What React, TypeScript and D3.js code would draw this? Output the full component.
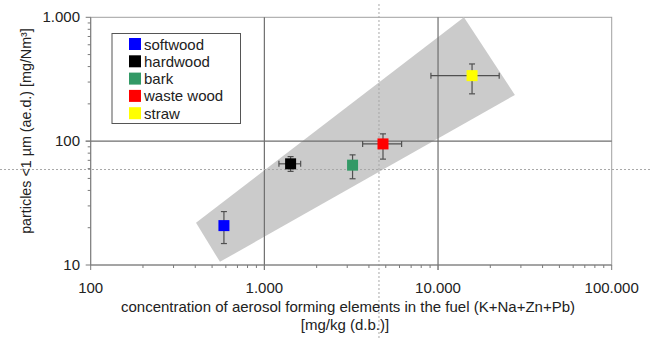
import React, { useRef, useEffect } from "react";
import * as d3 from "d3";

// fuels
const categories = ["softwood", "hardwood", "bark", "waste wood", "straw"];
const colors = ["#0000ff", "#000000", "#339966", "#ff0000", "#ffff00"];
// concentration of aerosol forming elements [mg/kg]
const xValues = [585, 1416, 3220, 4820, 15700];
const xLow = [585, 1213, 3080, 3680, 9100];
const xHigh = [585, 1618, 3380, 6170, 22500];
// particles < 1 µm [mg/Nm³]
const yValues = [20.8, 65.6, 64, 95, 338];
const yLow = [14.9, 57, 49.7, 71.6, 241];
const yHigh = [27, 75, 77.5, 114.5, 420];

// shaded band corners
const bandX = [404, 14100, 27700, 555];
const bandY = [21.9, 1000, 236, 10.6];

// dotted reference lines
const refX = 4570;
const refY = 59;

const xTicks = [100, 1000, 10000, 100000];
const xTickLabels = ["100", "1.000", "10.000", "100.000"];
const yTicks = [10, 100, 1000];
const yTickLabels = ["10", "100", "1.000"];

const FONT = '"Liberation Sans", Arial, sans-serif';

const App = () => {
    const chartRef = useRef<SVGSVGElement>(null);

    useEffect(() => {
        if (!chartRef.current) return;
        const svg = d3.select(chartRef.current);
        svg.selectAll("*").remove();

        const left = 90.7, right = 611.7, top = 17.3, bottom = 265;

        const x = d3.scaleLog().domain([100, 100000]).range([left, right]);
        const y = d3.scaleLog().domain([10, 1000]).range([bottom, top]);

        // frame
        svg.append("rect")
            .attr("x", left).attr("y", top)
            .attr("width", right - left).attr("height", bottom - top)
            .attr("fill", "#fff").attr("stroke", "#a0a0a0").attr("stroke-width", 1);

        // band
        const pts = bandX.map((v, i) => [x(v), y(bandY[i])] as [number, number]);
        svg.append("path")
            .attr("d", d3.line()(pts) + "Z")
            .attr("fill", "#cbcbcb");

        // grid lines
        [1000, 10000].forEach((v) => {
            svg.append("line")
                .attr("x1", x(v)).attr("x2", x(v)).attr("y1", top).attr("y2", bottom)
                .attr("stroke", "#6e6e6e").attr("stroke-width", 1.2);
        });
        svg.append("line")
            .attr("x1", left).attr("x2", right).attr("y1", y(100)).attr("y2", y(100))
            .attr("stroke", "#6e6e6e").attr("stroke-width", 1.2);

        // dotted reference lines
        svg.append("line")
            .attr("x1", x(refX)).attr("x2", x(refX)).attr("y1", 4).attr("y2", 340)
            .attr("stroke", "#a8a8a8").attr("stroke-width", 1).attr("stroke-dasharray", "2,2");
        svg.append("line")
            .attr("x1", 0).attr("x2", 652).attr("y1", y(refY)).attr("y2", y(refY))
            .attr("stroke", "#a8a8a8").attr("stroke-width", 1).attr("stroke-dasharray", "2,2");

        // axes
        const axisColor = "#7a7a7a";
        svg.append("line")
            .attr("x1", left).attr("x2", left).attr("y1", top).attr("y2", bottom)
            .attr("stroke", axisColor);
        svg.append("line")
            .attr("x1", left).attr("x2", right).attr("y1", bottom).attr("y2", bottom)
            .attr("stroke", axisColor);

        const xMinor: number[] = [];
        [100, 1000, 10000].forEach((d) => { for (let k = 1; k <= 10; k++) xMinor.push(d * k); });
        svg.append("g").selectAll("line").data(xMinor).enter().append("line")
            .attr("x1", (d) => x(d)).attr("x2", (d) => x(d))
            .attr("y1", bottom)
            .attr("y2", (d) => bottom + (xTicks.includes(d) ? 5 : 3))
            .attr("stroke", axisColor);

        const yMinor: number[] = [];
        [10, 100].forEach((d) => { for (let k = 1; k <= 10; k++) yMinor.push(d * k); });
        svg.append("g").selectAll("line").data(yMinor).enter().append("line")
            .attr("y1", (d) => y(d)).attr("y2", (d) => y(d))
            .attr("x1", left)
            .attr("x2", (d) => left - (yTicks.includes(d) ? 5 : 3))
            .attr("stroke", axisColor);

        svg.append("g").selectAll("text").data(xTicks).enter().append("text")
            .attr("x", (d) => x(d)).attr("y", 293)
            .attr("text-anchor", "middle")
            .style("font-family", FONT).style("font-size", "15px").style("fill", "#222")
            .text((d, i) => xTickLabels[i]);

        svg.append("g").selectAll("text").data(yTicks).enter().append("text")
            .attr("x", 80).attr("y", (d) => y(d) + 5)
            .attr("text-anchor", "end")
            .style("font-family", FONT).style("font-size", "15px").style("fill", "#222")
            .text((d, i) => yTickLabels[i]);

        // axis titles
        const xt = svg.append("text")
            .attr("text-anchor", "middle")
            .style("font-family", FONT).style("font-size", "15px").style("fill", "#222");
        xt.append("tspan").attr("x", 348).attr("y", 312)
            .text("concentration of aerosol forming elements in the fuel (K+Na+Zn+Pb)");
        xt.append("tspan").attr("x", 345).attr("y", 330).text("[mg/kg (d.b.)]");

        svg.append("text")
            .attr("transform", `translate(31,131) rotate(-90)`)
            .attr("text-anchor", "middle")
            .style("font-family", FONT).style("font-size", "14.3px").style("fill", "#222")
            .text("particles <1 µm (ae.d.) [mg/Nm³]");

        // error bars
        const eb = svg.append("g").attr("stroke", "#505050").attr("stroke-width", 1.2);
        categories.forEach((c, i) => {
            const cx = x(xValues[i]), cy = y(yValues[i]);
            if (xHigh[i] > xLow[i]) {
                eb.append("line").attr("x1", x(xLow[i])).attr("x2", x(xHigh[i])).attr("y1", cy).attr("y2", cy);
                eb.append("line").attr("x1", x(xLow[i])).attr("x2", x(xLow[i])).attr("y1", cy - 3).attr("y2", cy + 3);
                eb.append("line").attr("x1", x(xHigh[i])).attr("x2", x(xHigh[i])).attr("y1", cy - 3).attr("y2", cy + 3);
            }
            eb.append("line").attr("x1", cx).attr("x2", cx).attr("y1", y(yLow[i])).attr("y2", y(yHigh[i]));
            eb.append("line").attr("x1", cx - 3).attr("x2", cx + 3).attr("y1", y(yLow[i])).attr("y2", y(yLow[i]));
            eb.append("line").attr("x1", cx - 3).attr("x2", cx + 3).attr("y1", y(yHigh[i])).attr("y2", y(yHigh[i]));
        });

        // markers
        svg.append("g").selectAll("rect").data(categories).enter().append("rect")
            .attr("x", (d, i) => x(xValues[i]) - 5.5)
            .attr("y", (d, i) => y(yValues[i]) - 5.5)
            .attr("width", 11).attr("height", 11)
            .attr("fill", (d, i) => colors[i]);

        // legend
        const lg = svg.append("g");
        lg.append("rect")
            .attr("x", 112).attr("y", 33.5).attr("width", 128.5).attr("height", 90)
            .attr("fill", "#fff").attr("stroke", "#555").attr("stroke-width", 1);
        const rows = lg.selectAll("g.item").data(categories).enter().append("g")
            .attr("class", "item")
            .attr("transform", (d, i) => `translate(129,${44 + i * 17.3})`);
        rows.append("rect")
            .attr("x", 0).attr("y", -6).attr("width", 12).attr("height", 12)
            .attr("fill", (d, i) => colors[i]);
        rows.append("text")
            .attr("x", 15).attr("y", 5.5)
            .style("font-family", FONT).style("font-size", "15px").style("fill", "#222")
            .text((d) => d);
    }, []);

    return (
        <svg ref={chartRef} width={652} height={340}
            style={{ position: "absolute", left: 0, top: 0, background: "#fff" }} />
    );
};

export default App;
